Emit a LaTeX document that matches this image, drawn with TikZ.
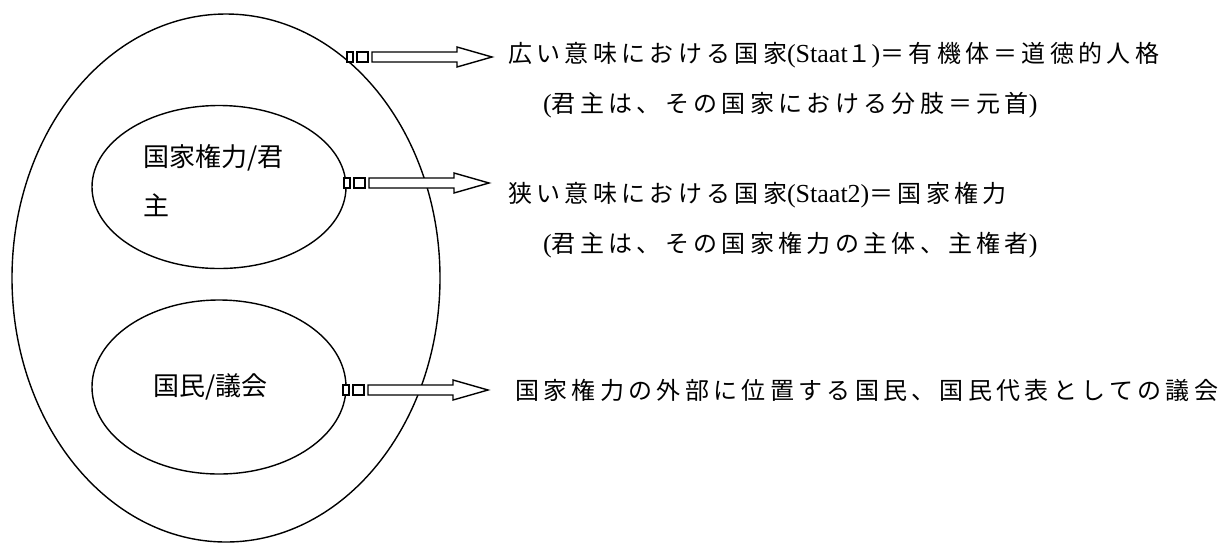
\documentclass[tikz,border=0pt]{standalone}
\usepackage{fontspec}
\setmainfont{Liberation Serif}
\newfontfamily\cjk{Noto Sans CJK JP}[LetterSpace=18]
\newfontfamily\cjkplain{Noto Sans CJK JP}
\newcommand\J[1]{{\cjk #1}}
\newcommand\Lt[1]{{\rmfamily\fontsize{26}{28}\selectfont #1}}
\usetikzlibrary{shapes.geometric}
\begin{document}
\begin{tikzpicture}[x=1pt,y=-1pt,
  ln/.style={draw=black,line width=1.4pt,fill=white},
  oval/.style={ellipse,draw=black,line width=1.4pt,inner sep=0pt},
  rtxt/.style={anchor=west,inner sep=0pt,font=\fontsize{24}{28}\selectfont},
  itxt/.style={anchor=west,inner sep=0pt,font=\cjkplain\fontsize{26}{30}\selectfont},
  barrow/.pic={
    \draw[ln] (-25,-5) rectangle (-19,5);
    \draw[ln] (-15,-5) rectangle (-4,5);
    \draw[ln] (0,-5) -- (85,-5) -- (85,-10) -- (120,0) -- (85,10) -- (85,5) -- (0,5) -- cycle;
  }]
\useasboundingbox (0,0) rectangle (1222,542);
\node[oval,minimum width=428pt,minimum height=528pt] (outer) at (226,278) {};
\node[oval,minimum width=254pt,minimum height=163pt] (inA) at (219,187) {};
\node[oval,minimum width=254pt,minimum height=174pt] (inB) at (219,387) {};
\node[itxt] (la1) at (143,158) {国家権力/君};
\node[itxt] (la2) at (143,205) {主};
\node[itxt] (lb) at (153,387) {国民/議会};
\coordinate (a1) at (372,57);
\coordinate (a2) at (369,183);
\coordinate (a3) at (368,390);
\pic at (a1) {barrow};
\pic at (a2) {barrow};
\pic at (a3) {barrow};
\node[rtxt] (t1) at (508,55) {\J{広い意味における国家}\Lt{(Staat}\J{１}\Lt{)}\J{＝有機体＝道徳的人格}};
\node[rtxt] (t2) at (543,105) {\Lt{(}\J{君主は、その国家における分肢＝元首}\Lt{)}};
\node[rtxt] (t3) at (508,195) {\J{狭い意味における国家}\Lt{(Staat2)}\J{＝国家権力}};
\node[rtxt] (t4) at (543,245) {\Lt{(}\J{君主は、その国家権力の主体、主権者}\Lt{)}};
\node[rtxt] (t5) at (515,390) {\J{国家権力の外部に位置する国民、国民代表としての議会}};
\end{tikzpicture}
\end{document}
